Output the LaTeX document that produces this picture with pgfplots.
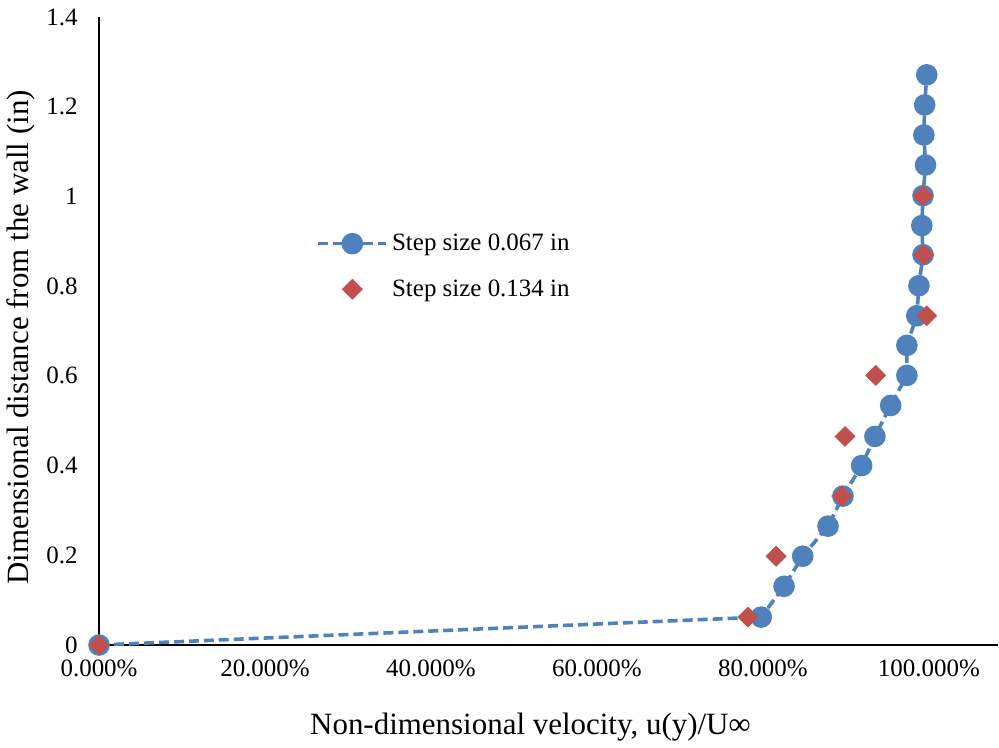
\documentclass[border=0pt]{standalone}
\usepackage{pgfplots}
\pgfplotsset{compat=1.18}
\usepackage{fontspec}
\setmainfont{Liberation Serif}
\definecolor{eblue}{HTML}{4F81BD}
\definecolor{ered}{HTML}{C0504D}
\begin{document}
\begin{tikzpicture}
\begin{axis}[
  scale only axis,
  width=450pt, height=314.5pt,
  xmin=0, xmax=1.083, ymin=0, ymax=1.4,
  axis x line=bottom, axis y line=left,
  axis line style={-, line width=1.3pt, black},
  xtick={0,0.2,0.4,0.6,0.8,1.0},
  xticklabels={0.000\%,20.000\%,40.000\%,60.000\%,80.000\%,100.000\%},
  ytick={0,0.2,0.4,0.6,0.8,1,1.2,1.4},
  yticklabels={0,0.2,0.4,0.6,0.8,1,1.2,1.4},
  major tick length=0pt,
  /pgf/number format/assume math mode=true,
  tick label style={font=\fontsize{12.5}{15}\selectfont, inner sep=0pt},
  xticklabel style={yshift=-7pt},
  yticklabel style={xshift=-10.5pt},
  xlabel={Non-dimensional velocity, u(y)/U∞},
  ylabel={Dimensional distance from the wall (in)},
  label style={font=\fontsize{15.5}{18}\selectfont},
  xlabel style={at={(axis description cs:0.48,0)}, anchor=center, yshift=-41pt},
  ylabel style={at={(axis description cs:-0.087,0.49)}, anchor=center},
  clip=false,
  legend style={draw=none, fill=none, at={(rel axis cs:0.235,0.668)}, anchor=north west,
    font=\fontsize{12.5}{15}\selectfont, row sep=9pt, legend cell align=left},
  legend image code/.code={%
    \draw[#1, mark repeat=2, mark phase=2] plot coordinates {(0pt,0pt) (17pt,0pt) (34pt,0pt)};},
]
\addplot[color=eblue, line width=1.8pt, dash pattern=on 5pt off 2.5pt,
  mark=*, mark size=4.5pt, mark options={solid, fill=eblue, draw=eblue}]
coordinates {
(0,0)
(0.798,0.0623)
(0.8255,0.131)
(0.848,0.198)
(0.8785,0.265)
(0.8965,0.332)
(0.919,0.400)
(0.935,0.465)
(0.954,0.534)
(0.9735,0.601)
(0.9735,0.668)
(0.9855,0.734)
(0.988,0.801)
(0.993,0.870)
(0.9915,0.935)
(0.993,1.0016)
(0.996,1.070)
(0.994,1.137)
(0.995,1.204)
(0.9975,1.271)
};
\addlegendentry{Step size 0.067 in}
\addplot[only marks, mark=square*, mark size=3.5pt,
  mark options={rotate=45, fill=ered, draw=ered}]
coordinates {
(0,0)
(0.782,0.0623)
(0.816,0.198)
(0.895,0.332)
(0.899,0.465)
(0.936,0.601)
(0.9975,0.734)
(0.994,0.870)
(0.993,1.0016)
};
\addlegendentry{Step size 0.134 in}
\path (rel axis cs:0,0) ++(-49pt,-50pt) coordinate (bl);
\path (rel axis cs:1,1) ++(0.5pt,8.5pt) coordinate (tr);
\path (bl) rectangle (tr);
\end{axis}
\end{tikzpicture}
\end{document}
